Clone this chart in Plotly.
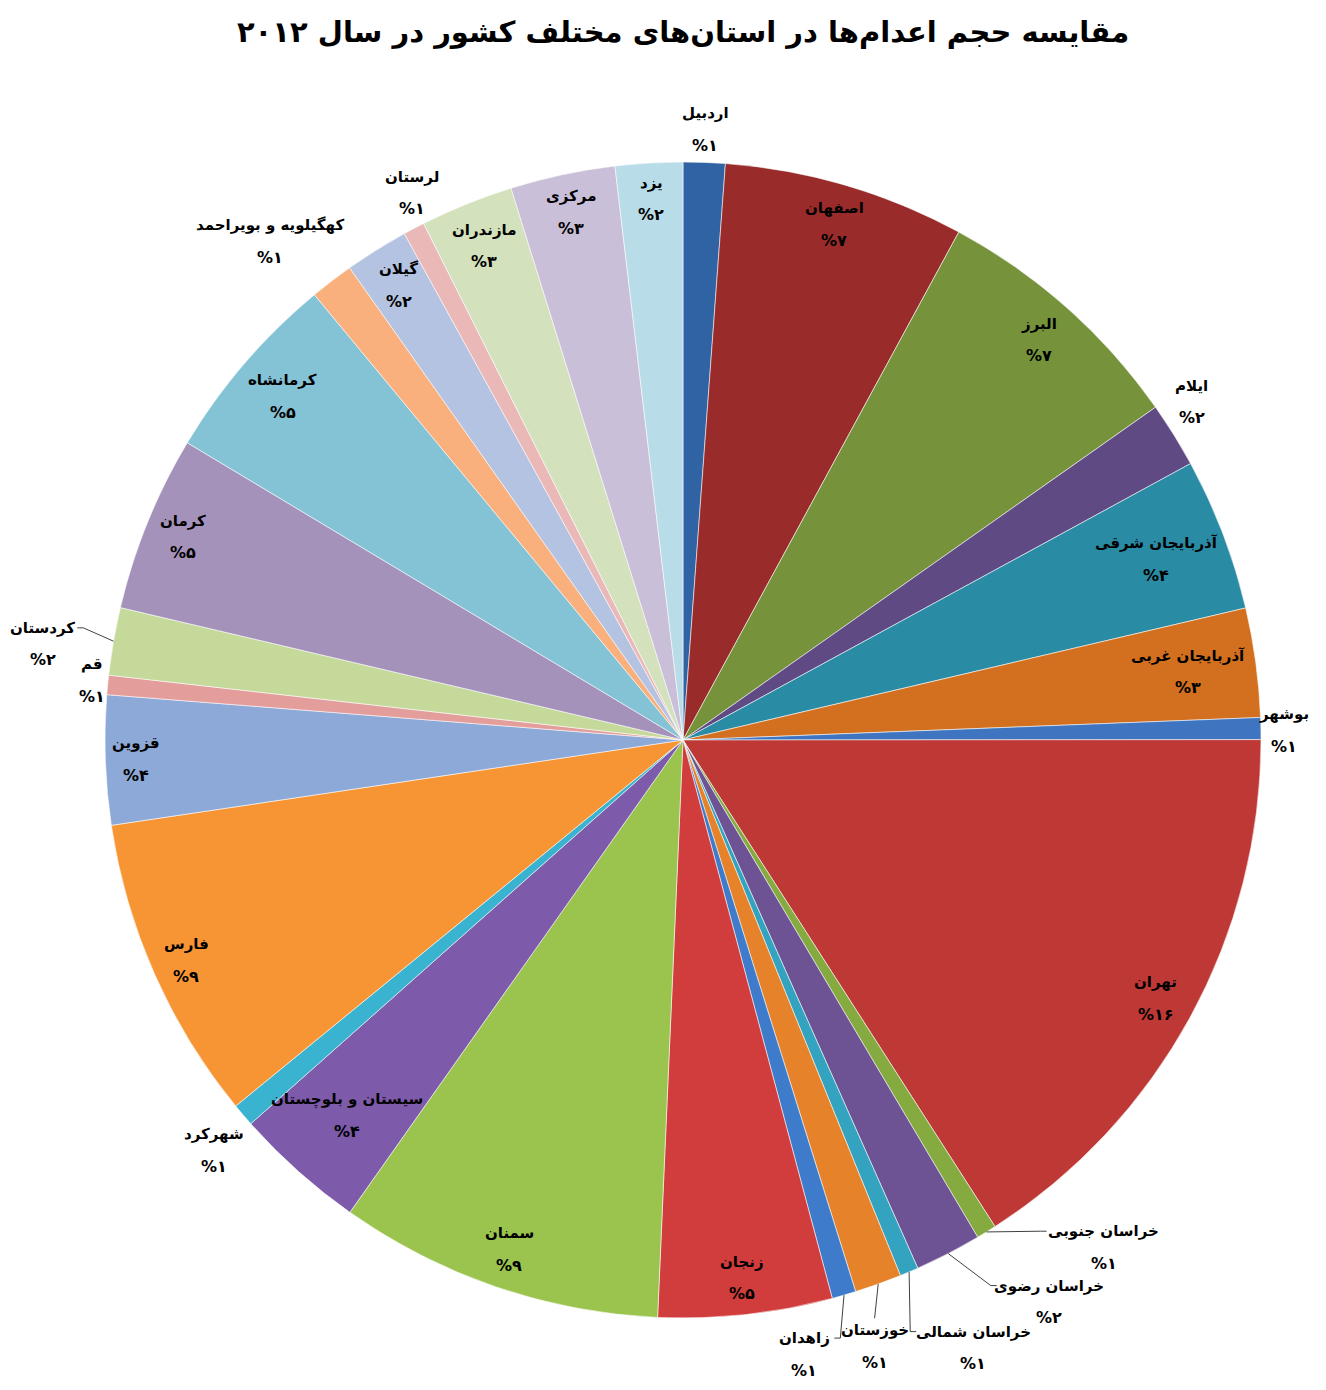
import math
import plotly.graph_objects as go

# provinces in the order Excel drew them (clockwise from 12 o'clock)
provinces = ["اردبیل", "اصفهان", "البرز", "ایلام", "آذربایجان شرقی", "آذربایجان غربی", "بوشهر",
             "تهران", "خراسان جنوبی", "خراسان رضوی", "خراسان شمالی", "خوزستان", "زاهدان",
             "زنجان", "سمنان", "سیستان و بلوچستان", "شهرکرد", "فارس", "قزوین", "قم", "کردستان",
             "کرمان", "کرمانشاه", "کهگیلویه و بویراحمد", "گیلان", "لرستان", "مازندران",
             "مرکزی", "یزد"]
shares = [1.17, 6.75, 7.32, 1.83, 4.27, 3.05, 0.61,
          15.94, 0.56, 1.86, 0.52, 1.31, 0.67,
          4.86, 9.08, 3.67, 0.64, 8.56, 3.61, 0.54, 1.89,
          4.92, 5.40, 1.22, 1.78, 0.60, 2.60,
          2.93, 1.88]
colors = ["#2F63A3", "#9A2B2B", "#76933C", "#5F4A83", "#2A8BA5", "#D2701F", "#3F75C0",
          "#BE3936", "#85AA40", "#6D5394", "#34A3BF", "#E5822A", "#3E7BCB",
          "#D13D3C", "#9AC44E", "#7D5AAA", "#3AB3D0", "#F79534", "#8DA9D8", "#E39E9C", "#C4D99A",
          "#A492BB", "#84C2D6", "#F9B07C", "#B5C3E2", "#EBB8B8", "#D3E1BD",
          "#CABFD8", "#B8DCE8"]

title = "مقایسه حجم اعدام‌ها در استان‌های مختلف کشور در سال ۲۰۱۲"

# labels that sit outside the pie: (radius factor, angle shift in degrees, leader side)
outside = {
    "اردبیل": (1.057, 0.0, None),
    "ایلام": (1.057, -1.75, None),
    "بوشهر": (1.04, 0.2, None),
    "خراسان جنوبی": (1.14, -8.0, "left"),
    "خراسان رضوی": (1.16, -5.8, "left"),
    "خراسان شمالی": (1.165, -2.5, "left"),
    "خوزستان": (1.10, 2.2, "top"),
    "زاهدان": (1.083, 5.0, "right"),
    "شهرکرد": (1.078, -0.75, None),
    "قم": (1.028, 0.3, None),
    "کردستان": (1.12, -1.3, "right"),
    "کهگیلویه و بویراحمد": (1.12, -2.2, None),
    "لرستان": (1.057, 1.4, None),
}

# the page body adds 8px around the figure
W, H = 1310, 1374
CX, CY, R = 675, 732, 578
dom_x = [(CX - R) / W, (CX + R) / W]
dom_y = [(H - CY - R) / H, (H - CY + R) / H]

FONT = "DejaVu Sans"
NAME_SIZE = 15
PCT_SIZE = 16
LINE_GAP = 16
CHAR_W = 8.0      # width used for placing labels inside slices
TEXT_W = 9.0      # rendered width per character, for leader ends

fa_digits = str.maketrans("0123456789", "۰۱۲۳۴۵۶۷۸۹")


def paper(x, y):
    return x / W, 1 - y / H


fig = go.Figure(go.Pie(
    labels=provinces,
    values=shares,
    sort=False,
    direction="clockwise",
    rotation=0,
    textinfo="none",
    hoverinfo="label+percent",
    marker=dict(colors=colors, line=dict(color="rgba(255,255,255,0.55)", width=1)),
    domain=dict(x=dom_x, y=dom_y),
    showlegend=False,
))

total = sum(shares)
annotations = []
shapes = []
acc = 0.0
for name, v in zip(provinces, shares):
    mid = (acc + v / 2) / total * 360
    acc += v
    pct = int(v / total * 100 + 0.5)
    w = len(name) * CHAR_W
    if name in outside:
        rf, dth, side = outside[name]
        th = math.radians(mid + dth)
        r = R * rf
    else:
        side = None
        th = math.radians(mid)
        r = R - (w / 2 * abs(math.sin(th)) + 25 * abs(math.cos(th))) - 10
    x = CX + r * math.sin(th)
    y = CY - r * math.cos(th)

    lines = ((name, -LINE_GAP, NAME_SIZE),
             ("%" + str(pct).translate(fa_digits), LINE_GAP, PCT_SIZE))
    for txt, dy, size in lines:
        px, py = paper(x, y + dy)
        annotations.append(dict(
            x=px, y=py, xref="paper", yref="paper", showarrow=False,
            xanchor="center", yanchor="middle",
            text="<b>" + txt + "</b>",
            font=dict(family=FONT, size=size, color="black"),
        ))

    if side:
        rm = math.radians(mid)
        x0, y0 = CX + R * math.sin(rm), CY - R * math.cos(rm)
        if side == "top":
            pts = [(x0, y0), (x, y - LINE_GAP - 12)]
        else:
            sgn = -1 if side == "left" else 1
            ex, ey = x + sgn * (len(name) * TEXT_W / 2 + 3), y - LINE_GAP
            pts = [(x0, y0), (ex + sgn * 6, ey), (ex, ey)]
        path = ""
        for k, (px, py) in enumerate(pts):
            qx, qy = paper(px, py)
            path += ("M" if k == 0 else "L") + f"{qx:.5f},{qy:.5f}"
        shapes.append(dict(type="path", xref="paper", yref="paper", path=path,
                           line=dict(color="#404040", width=1)))

fig.update_layout(
    width=W, height=H,
    margin=dict(l=0, r=0, t=0, b=0),
    paper_bgcolor="white",
    plot_bgcolor="white",
    title=dict(text="<b>" + title + "</b>", x=CX / W, xanchor="center",
               y=1 - 24 / H, yanchor="middle",
               font=dict(family=FONT, size=29, color="black")),
    annotations=annotations,
    shapes=shapes,
)

fig.write_html("out.html")
